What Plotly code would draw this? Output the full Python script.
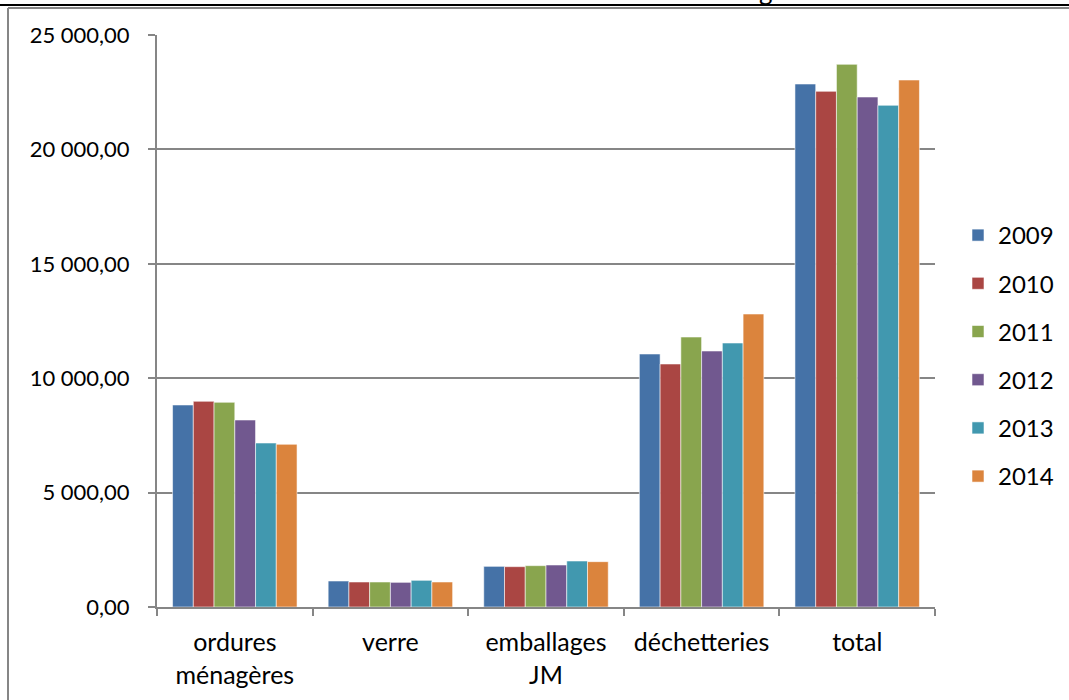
import plotly.graph_objects as go

categories = ["ordures<br>ménagères", "verre", "emballages<br>JM", "déchetteries", "total"]
years = ["2009", "2010", "2011", "2012", "2013", "2014"]
v2009 = [8830, 1136, 1777, 11058, 22858]
v2010 = [8990, 1093, 1763, 10621, 22538]
v2011 = [8946, 1093, 1807, 11800, 23718]
v2012 = [8173, 1078, 1836, 11189, 22290]
v2013 = [7168, 1166, 2010, 11538, 21927]
v2014 = [7111, 1093, 1981, 12806, 23033]
series = [v2009, v2010, v2011, v2012, v2013, v2014]
colors = ["#4572A7", "#AA4643", "#89A54E", "#71588F", "#4198AF", "#DB843D"]
ytickvals = [0, 5000, 10000, 15000, 20000, 25000]
yticktext = ["0,00", "5 000,00", "10 000,00", "15 000,00", "20 000,00", "25 000,00"]

FONT = "Lato"
W, H = 1069, 700
L, R, T, B = 157, 134, 35, 93
pw = W - L - R
ph = H - T - B

def px2x(px):
    return (px - L) / pw

def py2y(py):
    return (H - B - py) / ph

fig = go.Figure()
for yr, vals, c in zip(years, series, colors):
    fig.add_trace(go.Bar(
        x=categories, y=vals, name=yr, legendgroup=yr,
        marker=dict(color=c, line=dict(color="rgba(255,255,255,0.55)", width=1)),
    ))

grey = "#868686"
fig.update_layout(
    width=W, height=H,
    margin=dict(l=L, r=R, t=T, b=B, autoexpand=False),
    paper_bgcolor="white", plot_bgcolor="white",
    barmode="group", bargap=0.2, bargroupgap=0,
    font=dict(family=FONT, size=22, color="black"),
    showlegend=True,
    legend=dict(xref="container", yref="container", x=958 / W, xanchor="left",
                y=1 - 356 / H, yanchor="middle",
                font=dict(family=FONT, size=24, color="black"),
                traceorder="grouped", tracegroupgap=14, bgcolor="rgba(0,0,0,0)"),
    xaxis=dict(showgrid=False, showline=True, linecolor=grey, linewidth=2,
               ticks="outside", tickson="boundaries", ticklen=7, tickcolor=grey,
               tickwidth=2, ticklabelstandoff=12, automargin=False,
               tickfont=dict(family=FONT, size=25, color="black")),
    yaxis=dict(range=[0, 25000], tickvals=ytickvals, ticktext=yticktext,
               showgrid=True, gridcolor=grey, gridwidth=2, zeroline=False,
               showline=True, linecolor=grey, linewidth=2,
               ticks="outside", ticklen=7, tickcolor=grey, tickwidth=2,
               ticklabelstandoff=14, automargin=False,
               tickfont=dict(family=FONT, size=22, color="black")),
)

# outer frame: black top line, grey inner border
fig.add_shape(type="line", xref="paper", yref="paper",
              x0=px2x(0), x1=px2x(W), y0=py2y(5), y1=py2y(5),
              line=dict(color="black", width=2))
fig.add_shape(type="line", xref="paper", yref="paper",
              x0=px2x(8), x1=px2x(W), y0=py2y(8), y1=py2y(8),
              line=dict(color=grey, width=2))
fig.add_shape(type="line", xref="paper", yref="paper",
              x0=px2x(8), x1=px2x(8), y0=py2y(8), y1=py2y(H + 5),
              line=dict(color=grey, width=2))
# cut-off title remnant (only the descender of a "g" is visible)
fig.add_annotation(text="g", xref="paper", yref="paper", x=px2x(766), y=py2y(8),
                   xanchor="center", yanchor="bottom", showarrow=False,
                   font=dict(family=FONT, size=26, color="black"))

fig.write_html("out.html",
               config={"displayModeBar": False},
               post_script="document.body.style.margin='0';document.body.style.overflow='hidden';")
